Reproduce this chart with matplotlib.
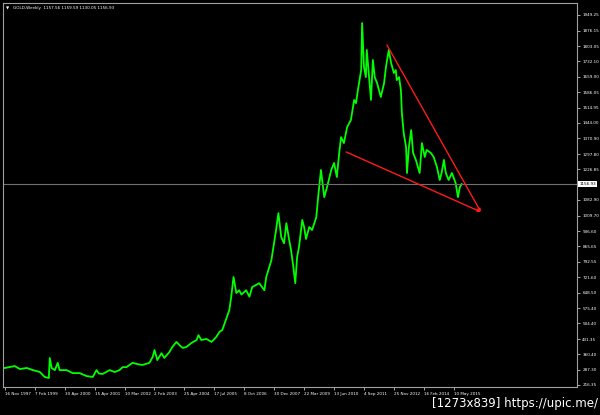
import matplotlib
matplotlib.use("Agg")
import matplotlib.pyplot as plt
import matplotlib.transforms as mtransforms

# weekly gold, sampled: bar index from 16 Nov 1997 and close price
bars = [0, 21, 32, 47, 60, 75, 85, 94, 96, 100, 107, 113, 117, 132, 145, 160,
        175, 188, 196, 201, 209, 224, 235, 245, 252, 260, 273, 282, 294, 309,
        316, 320, 326, 335, 341, 352, 358, 367, 373, 380, 388, 399, 410, 414,
        420, 431, 442, 452, 459, 465, 474, 480, 484, 489, 495, 501, 506, 516,
        523, 529, 544, 555, 559, 570, 580, 585, 591, 597, 602, 608, 612, 617,
        621, 625, 629, 636, 640, 644, 651, 657, 666, 670, 676, 683, 689, 698,
        704, 710, 715, 719, 725, 732, 740, 747, 751, 755, 762, 764, 768, 772,
        774, 779, 783, 787, 791, 796, 804, 811, 815, 821, 826, 832, 836, 838,
        843, 847, 849, 853, 858, 860, 864, 869, 873, 879, 887, 892, 898, 902,
        911, 917, 924, 930, 934, 939, 943, 949, 956, 964, 969, 973, 977]
close = [296, 305, 291, 296, 286, 277, 254, 249, 343, 296, 286, 320, 286, 286,
         272, 272, 258, 254, 286, 270, 268, 286, 277, 286, 300, 300, 320, 315,
         310, 320, 347, 380, 333, 365, 343, 371, 394, 418, 404, 390, 394, 413,
         427, 450, 427, 432, 418, 441, 465, 474, 530, 567, 628, 722, 647, 660,
         640, 660, 630, 675, 693, 660, 722, 801, 942, 1021, 909, 880, 974, 895,
         848, 769, 693, 815, 862, 989, 956, 900, 956, 942, 1002, 1096, 1223,
         1096, 1143, 1223, 1256, 1190, 1303, 1377, 1349, 1424, 1457, 1551, 1536,
         1597, 1691, 1911, 1705, 1658, 1785, 1658, 1551, 1738, 1658, 1630, 1565,
         1630, 1705, 1785, 1724, 1677, 1691, 1644, 1658, 1597, 1490, 1396, 1330,
         1209, 1330, 1410, 1303, 1270, 1209, 1349, 1284, 1317, 1303, 1284, 1237,
         1176, 1209, 1270, 1209, 1176, 1209, 1162, 1096, 1143, 1157]

ytick_vals = [1949.25, 1876.15, 1803.05, 1732.10, 1659.00, 1586.05, 1514.95,
              1444.00, 1370.90, 1297.80, 1226.85, 1082.90, 1009.70, 936.60,
              865.65, 792.55, 721.60, 648.50, 575.40, 504.40, 431.35, 360.40,
              287.30, 216.35]
xtick_labels = ["16 Nov 1997", "7 Feb 1999", "30 Apr 2000", "15 Apr 2001",
                "10 Mar 2002", "2 Feb 2003", "25 Apr 2004", "17 Jul 2005",
                "8 Oct 2006", "30 Dec 2007", "22 Mar 2009", "13 Jun 2010",
                "4 Sep 2011", "25 Nov 2012", "16 Feb 2014", "10 May 2015"]
xtick_bars = [i * 64 for i in range(len(xtick_labels))]

last_price = 1156.93
# trend lines (bar, price)
upper_line = [(817, 1808.6), (1018, 1026.5)]
lower_line = [(730, 1307.5), (1018, 1026.5)]

fig = plt.figure(figsize=(6, 4.15), dpi=100, facecolor="black")
ax = fig.add_axes([0.005, 0.0675, 0.957, 0.9253], facecolor="black")

ax.plot(bars, close, color="#00ff00", lw=1.3)
ax.axhline(last_price, color="#707070", lw=0.8)

for start, end in (upper_line, lower_line):
    ax.annotate("", xy=end, xytext=start,
                arrowprops=dict(arrowstyle="-|>", color="#ff1a1a", lw=1.0,
                                mutation_scale=4, shrinkA=0, shrinkB=0))

ax.set_xlim(-4, 1224)
ax.set_ylim(207, 2005)

ax.yaxis.tick_right()
ax.set_yticks(ytick_vals)
ax.set_yticklabels([f"{v:.2f}" for v in ytick_vals])
ax.set_xticks(xtick_bars)
ax.set_xticklabels(xtick_labels, ha="left")
ax.tick_params(axis="both", colors="#c0c0c0", labelsize=3.0, length=2.5,
               width=0.6, pad=1.2, labelcolor="white")

for sp in ax.spines.values():
    sp.set_color("#a0a0a0")
    sp.set_linewidth(0.8)

trans = mtransforms.blended_transform_factory(ax.transAxes, ax.transData)
ax.text(1.004, last_price, f"{last_price:.2f}", transform=trans, fontsize=3.0,
        color="black", va="center", ha="left",
        bbox=dict(boxstyle="square,pad=0.25", fc="white", ec="none"))

ax.text(0.005, 0.992, "\u25bc", transform=ax.transAxes, fontsize=3.0,
        color="white", va="top", ha="left")
ax.text(0.017, 0.993, "GOLD,Weekly  1157.56 1159.59 1130.05 1156.93",
        transform=ax.transAxes, fontsize=3.0, color="white", va="top",
        ha="left")

fig.text(0.997, 0.012, "[1273x839] https://upic.me/", color="white",
         fontsize=8.5, ha="right", va="bottom")

fig.savefig("out.png", dpi=100, facecolor="black")
